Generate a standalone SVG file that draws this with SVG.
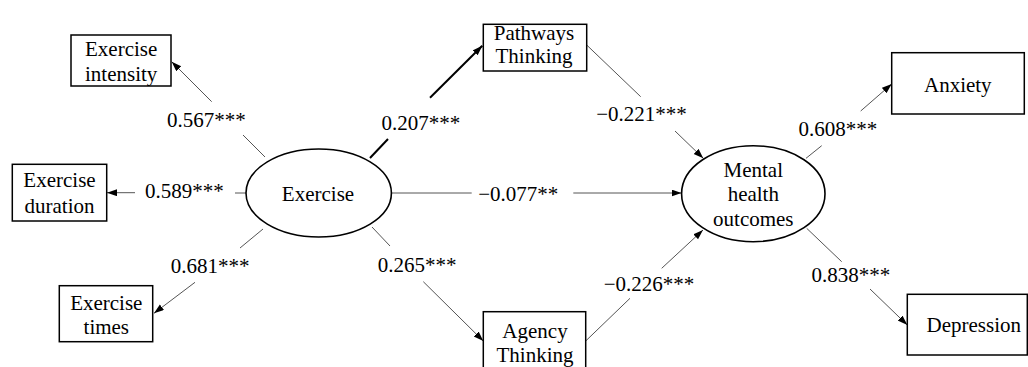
<svg xmlns="http://www.w3.org/2000/svg" width="1028" height="367" viewBox="0 0 1028 367" font-family="'Liberation Serif', 'Times New Roman', 'DejaVu Serif', serif">
<style>
text{font-family:'Liberation Serif','Times New Roman','DejaVu Serif',serif;font-size:21px;fill:#000;text-anchor:middle}
.box{fill:#fff;stroke:#000;stroke-width:1.5}
.ell{fill:#fff;stroke:#000;stroke-width:1.6}
.ln{stroke:#555;stroke-width:1;fill:none}
.thick{stroke:#000;stroke-width:2;fill:none}
</style>
<defs>
<marker id="ah" markerUnits="userSpaceOnUse" markerWidth="11" markerHeight="8" refX="10" refY="3.5" orient="auto">
<path d="M0,0 L10,3.5 L0,7 z" fill="#000"/>
</marker>
</defs>
<rect width="1028" height="367" fill="#fff"/>
<g id="connectors">
<line class="ln" x1="265" y1="157" x2="243" y2="135"/>
<line class="ln" x1="211.7" y1="101.7" x2="171.7" y2="61.7" marker-end="url(#ah)"/>
<line class="ln" x1="246" y1="193" x2="235" y2="193"/>
<line class="ln" x1="135" y1="192.7" x2="107" y2="192.7" marker-end="url(#ah)"/>
<line class="ln" x1="263" y1="229" x2="240" y2="248"/>
<line class="ln" x1="195" y1="282.3" x2="154" y2="313.3" marker-end="url(#ah)"/>
<line class="thick" x1="370" y1="158" x2="388" y2="139"/>
<line class="thick" x1="430" y1="97.7" x2="482.3" y2="45.7" marker-end="url(#ah)"/>
<line class="ln" x1="372" y1="227" x2="390" y2="246"/>
<line class="ln" x1="423.3" y1="281.7" x2="483.3" y2="341" marker-end="url(#ah)"/>
<line class="ln" x1="391" y1="193" x2="471.7" y2="193"/>
<line class="ln" x1="573.3" y1="193" x2="681.5" y2="193" marker-end="url(#ah)"/>
<line class="ln" x1="586.7" y1="45" x2="640.7" y2="96.7"/>
<line class="ln" x1="675" y1="131" x2="703.3" y2="158.3" marker-end="url(#ah)"/>
<line class="ln" x1="585.7" y1="341" x2="630" y2="298.3"/>
<line class="ln" x1="661.7" y1="268.3" x2="703" y2="230" marker-end="url(#ah)"/>
<line class="ln" x1="806" y1="158.3" x2="821.7" y2="145.7"/>
<line class="ln" x1="860.7" y1="111" x2="891.7" y2="84" marker-end="url(#ah)"/>
<line class="ln" x1="806.7" y1="228.3" x2="841.7" y2="261.7"/>
<line class="ln" x1="870" y1="289" x2="907.3" y2="325" marker-end="url(#ah)"/>
<text x="206.3" y="127">0.567***</text>
<text x="184.3" y="198">0.589***</text>
<text x="210" y="273">0.681***</text>
<text x="420.8" y="130">0.207***</text>
<text x="518.3" y="201">−0.077**</text>
<text x="417.2" y="271.7">0.265***</text>
<text x="641.5" y="120.7">−0.221***</text>
<text x="649" y="291">−0.226***</text>
<text x="837.8" y="136">0.608***</text>
<text x="850.8" y="282.3">0.838***</text>
</g>
<g id="exercise">
<ellipse class="ell" cx="318.7" cy="193" rx="72.7" ry="44"/>
<text x="318" y="201">Exercise</text>
</g>
<g id="mental">
<ellipse class="ell" cx="753.3" cy="193.7" rx="71.7" ry="48"/>
<text x="753.3" y="176.7">Mental</text>
<text x="753.3" y="201.4">health</text>
<text x="753.3" y="226">outcomes</text>
</g>
<g id="intensity">
<rect class="box" x="71" y="35" width="100" height="51"/>
<text x="121.2" y="56">Exercise</text>
<text x="121.2" y="80.5">intensity</text>
</g>
<g id="duration">
<rect class="box" x="12.3" y="164.3" width="94.4" height="56.7"/>
<text x="59.5" y="186.7">Exercise</text>
<text x="59.5" y="213">duration</text>
</g>
<g id="times">
<rect class="box" x="59.3" y="285.7" width="93.4" height="56"/>
<text x="106.3" y="310">Exercise</text>
<text x="106.3" y="334">times</text>
</g>
<g id="pathways">
<rect class="box" x="483.3" y="24.3" width="103.4" height="46.7"/>
<text x="534" y="39.5">Pathways</text>
<text x="534" y="63.3">Thinking</text>
</g>
<g id="agency">
<rect class="box" x="483.3" y="311.7" width="102.4" height="62"/>
<text x="535" y="338.3">Agency</text>
<text x="535" y="361.7">Thinking</text>
</g>
<g id="anxiety">
<rect class="box" x="891.7" y="52.7" width="132.6" height="61.3"/>
<text x="957.8" y="91.7">Anxiety</text>
</g>
<g id="depression">
<rect class="box" x="907.3" y="294.3" width="120" height="60.7"/>
<text x="973.8" y="331.7">Depression</text>
</g>
</svg>
